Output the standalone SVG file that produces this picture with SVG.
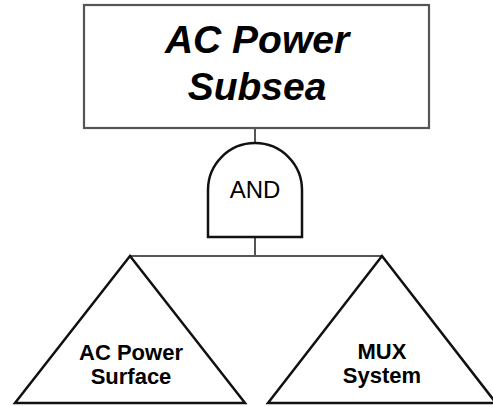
<svg xmlns="http://www.w3.org/2000/svg" width="493" height="406" viewBox="0 0 493 406">
<style>
.conn{stroke:#555;stroke-width:2;fill:none}
.shape{stroke:#111;stroke-width:2.5;fill:#fff}
.box{stroke:#555;stroke-width:2.2;fill:#fff}
.t{font-family:"Liberation Sans",Arial,sans-serif;fill:#000;text-anchor:middle}
.title{font-size:39px;font-weight:bold;font-style:italic}
.lbl{font-size:22px;font-weight:bold}
.gate{font-size:24px}
</style>
<rect width="493" height="406" fill="#fff"/>
<g id="connectors">
<line class="conn" x1="255" y1="128" x2="255" y2="143"/>
<line class="conn" x1="255" y1="237" x2="255" y2="256"/>
<line class="conn" x1="130" y1="256" x2="382" y2="256"/>
</g>
<g id="top-event">
<rect class="box" x="84" y="5" width="345" height="123"/>
<text class="t title" x="257" y="53">AC Power</text>
<text class="t title" x="257" y="100">Subsea</text>
</g>
<g id="and-gate">
<path class="shape" stroke-width="2" d="M208,237 L208,190 A47,47 0 0 1 302,190 L302,237 Z"/>
<text class="t gate" x="255" y="198">AND</text>
</g>
<g id="ac-power-surface">
<polygon class="shape" points="130,256 15,403 245,403"/>
<text class="t lbl" x="131" y="360">AC Power</text>
<text class="t lbl" x="131" y="384">Surface</text>
</g>
<g id="mux-system">
<polygon class="shape" points="382,256 268,403 496,403"/>
<text class="t lbl" x="382" y="359">MUX</text>
<text class="t lbl" x="382" y="383">System</text>
</g>
</svg>
